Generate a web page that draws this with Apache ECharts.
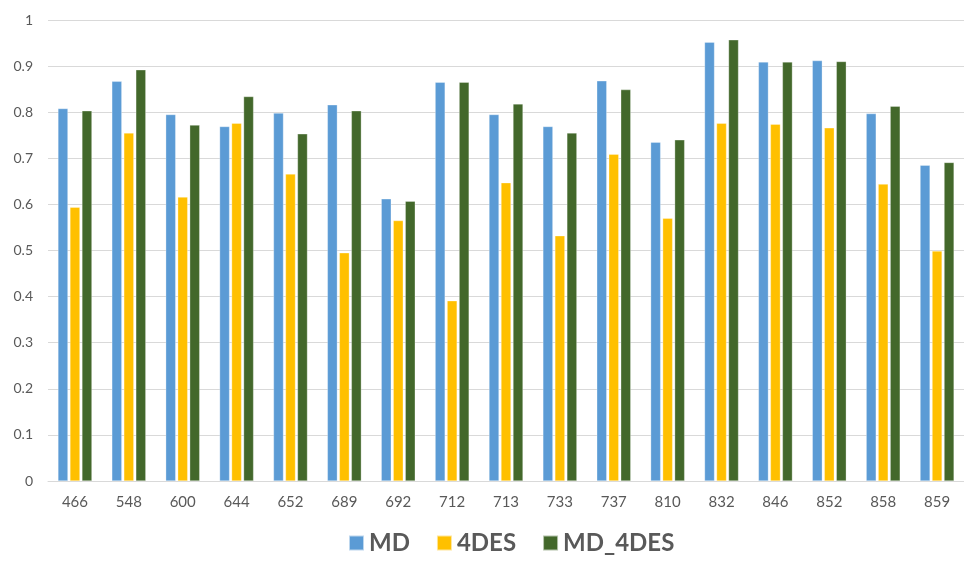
<!DOCTYPE html>
<html>
<head>
<meta charset="utf-8">
<script src="https://cdn.jsdelivr.net/npm/echarts@6/dist/echarts.min.js"></script>
<style>
  html, body { margin: 0; padding: 0; background: #fff; }
  #chart { width: 964px; height: 563px; }
</style>
</head>
<body>
<div id="chart"></div>
<script>
// categories (x axis)
const categories = ['466', '548', '600', '644', '652', '689', '692', '712', '713', '733', '737', '810', '832', '846', '852', '858', '859']
// series values
const mdValues = [0.808, 0.867, 0.795, 0.769, 0.798, 0.816, 0.612, 0.865, 0.795, 0.769, 0.868, 0.735, 0.952, 0.909, 0.912, 0.797, 0.685]
const desValues = [0.594, 0.755, 0.616, 0.776, 0.666, 0.495, 0.565, 0.391, 0.647, 0.532, 0.709, 0.570, 0.776, 0.774, 0.766, 0.644, 0.499]
const mdDesValues = [0.803, 0.892, 0.772, 0.834, 0.753, 0.803, 0.607, 0.865, 0.818, 0.755, 0.849, 0.740, 0.957, 0.909, 0.910, 0.813, 0.691]

const chart = echarts.init(document.getElementById('chart'))

const barStyle = (color) => ({
  type: 'bar',
  barWidth: 10,
  barGap: '20%',
  itemStyle: { color: color, borderColor: 'rgba(255,255,255,0.6)', borderWidth: 0.5 }
})

chart.setOption({
  animation: false,
  textStyle: { fontFamily: 'Lato, "Open Sans", sans-serif' },
  grid: { left: 48, right: -11, top: 20, bottom: 82 },
  legend: {
    bottom: 3,
    left: 343,
    itemWidth: 15,
    itemHeight: 15,
    itemGap: 26,
    icon: 'rect',
    textStyle: { fontSize: 24, fontWeight: 'bold', color: '#595959' },
    data: ['MD', '4DES', 'MD_4DES']
  },
  xAxis: {
    type: 'category',
    data: categories,
    axisTick: { show: false },
    axisLine: { lineStyle: { color: '#d9d9d9', width: 1 } },
    axisLabel: { color: '#595959', fontSize: 15, margin: 14 }
  },
  yAxis: {
    type: 'value',
    min: 0,
    max: 1,
    interval: 0.1,
    axisLine: { show: false },
    axisTick: { show: false },
    axisLabel: { color: '#595959', fontSize: 14, margin: 15 },
    splitLine: { lineStyle: { color: '#d9d9d9', width: 1 } }
  },
  series: [
    Object.assign({ name: 'MD', data: mdValues }, barStyle('#5B9BD5')),
    Object.assign({ name: '4DES', data: desValues }, barStyle('#FFC000')),
    Object.assign({ name: 'MD_4DES', data: mdDesValues }, barStyle('#43682B'))
  ]
})
</script>
</body>
</html>
